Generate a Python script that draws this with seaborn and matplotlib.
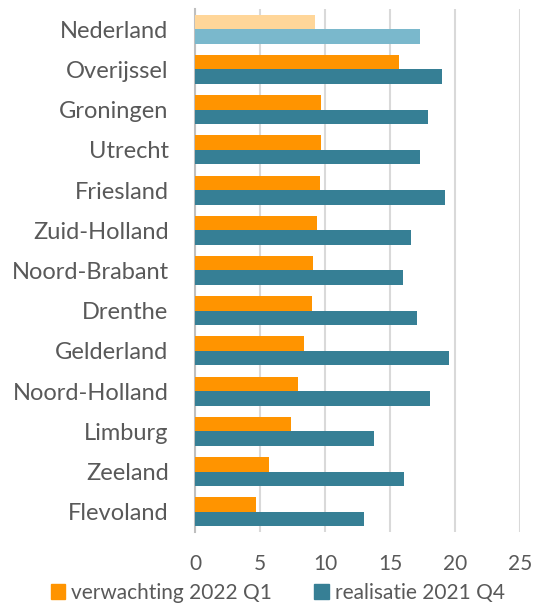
import matplotlib
matplotlib.use("Agg")
import matplotlib.pyplot as plt
import matplotlib.patches as mpatches
import seaborn as sns
import pandas as pd

provinces = ["Nederland", "Overijssel", "Groningen", "Utrecht", "Friesland",
             "Zuid-Holland", "Noord-Brabant", "Drenthe", "Gelderland",
             "Noord-Holland", "Limburg", "Zeeland", "Flevoland"]
verwachting_2022_q1 = [9.2, 15.7, 9.7, 9.7, 9.6, 9.4, 9.1, 9.0, 8.4, 7.9, 7.4, 5.7, 4.7]
realisatie_2021_q4 = [17.3, 19.0, 17.9, 17.3, 19.2, 16.6, 16.0, 17.1, 19.5, 18.1, 13.8, 16.1, 13.0]
series_names = ["verwachting 2022 Q1", "realisatie 2021 Q4"]
x_ticks = [0, 5, 10, 15, 20, 25]

ORANGE = "#ff9400"
TEAL = "#367f95"
ORANGE_LIGHT = "#ffd699"
TEAL_LIGHT = "#7ab8cc"
TEXT = "#595959"

df = pd.DataFrame({
    "provincie": provinces * 2,
    "waarde": verwachting_2022_q1 + realisatie_2021_q4,
    "reeks": [series_names[0]] * len(provinces) + [series_names[1]] * len(provinces),
})

sns.set_style("white")
plt.rcParams["font.family"] = ["Lato", "DejaVu Sans"]

fig = plt.figure(figsize=(5.34, 6.05), dpi=100)
ax = fig.add_axes([195 / 534, 73 / 605, 325 / 534, 523 / 605])

sns.barplot(data=df, x="waarde", y="provincie", hue="reeks", orient="h",
            order=provinces, hue_order=series_names,
            palette=[ORANGE, TEAL], saturation=1, width=0.72, ax=ax,
            legend=False, edgecolor="none", zorder=3)

# Nederland in lichtere tinten
ax.containers[0][0].set_facecolor(ORANGE_LIGHT)
ax.containers[1][0].set_facecolor(TEAL_LIGHT)

ax.set_xlim(0, 25)
ax.set_xticks(x_ticks)
ax.set_ylim(len(provinces) - 0.5, -0.5)
ax.set_xlabel("")
ax.set_ylabel("")
ax.grid(axis="x", color="#d9d9d9", linewidth=1.5, zorder=0)
ax.grid(axis="y", visible=False)
for s in ["top", "right", "bottom"]:
    ax.spines[s].set_visible(False)
ax.spines["left"].set_color("#bfbfbf")
ax.spines["left"].set_linewidth(1.5)
ax.tick_params(axis="x", length=0, pad=16, labelsize=15, labelcolor=TEXT)
ax.tick_params(axis="y", length=0, pad=19, labelsize=17, labelcolor=TEXT)

handles = [mpatches.Patch(color=ORANGE, label=series_names[0]),
           mpatches.Patch(color=TEAL, label=series_names[1])]
fig.legend(handles=handles, loc="center", bbox_to_anchor=(0.52, 0.02),
           ncol=2, frameon=False, fontsize=15, labelcolor=TEXT,
           handlelength=0.7, handleheight=0.7, handletextpad=0.3,
           columnspacing=2.0, borderaxespad=0)

fig.savefig("out.png", dpi=100)
